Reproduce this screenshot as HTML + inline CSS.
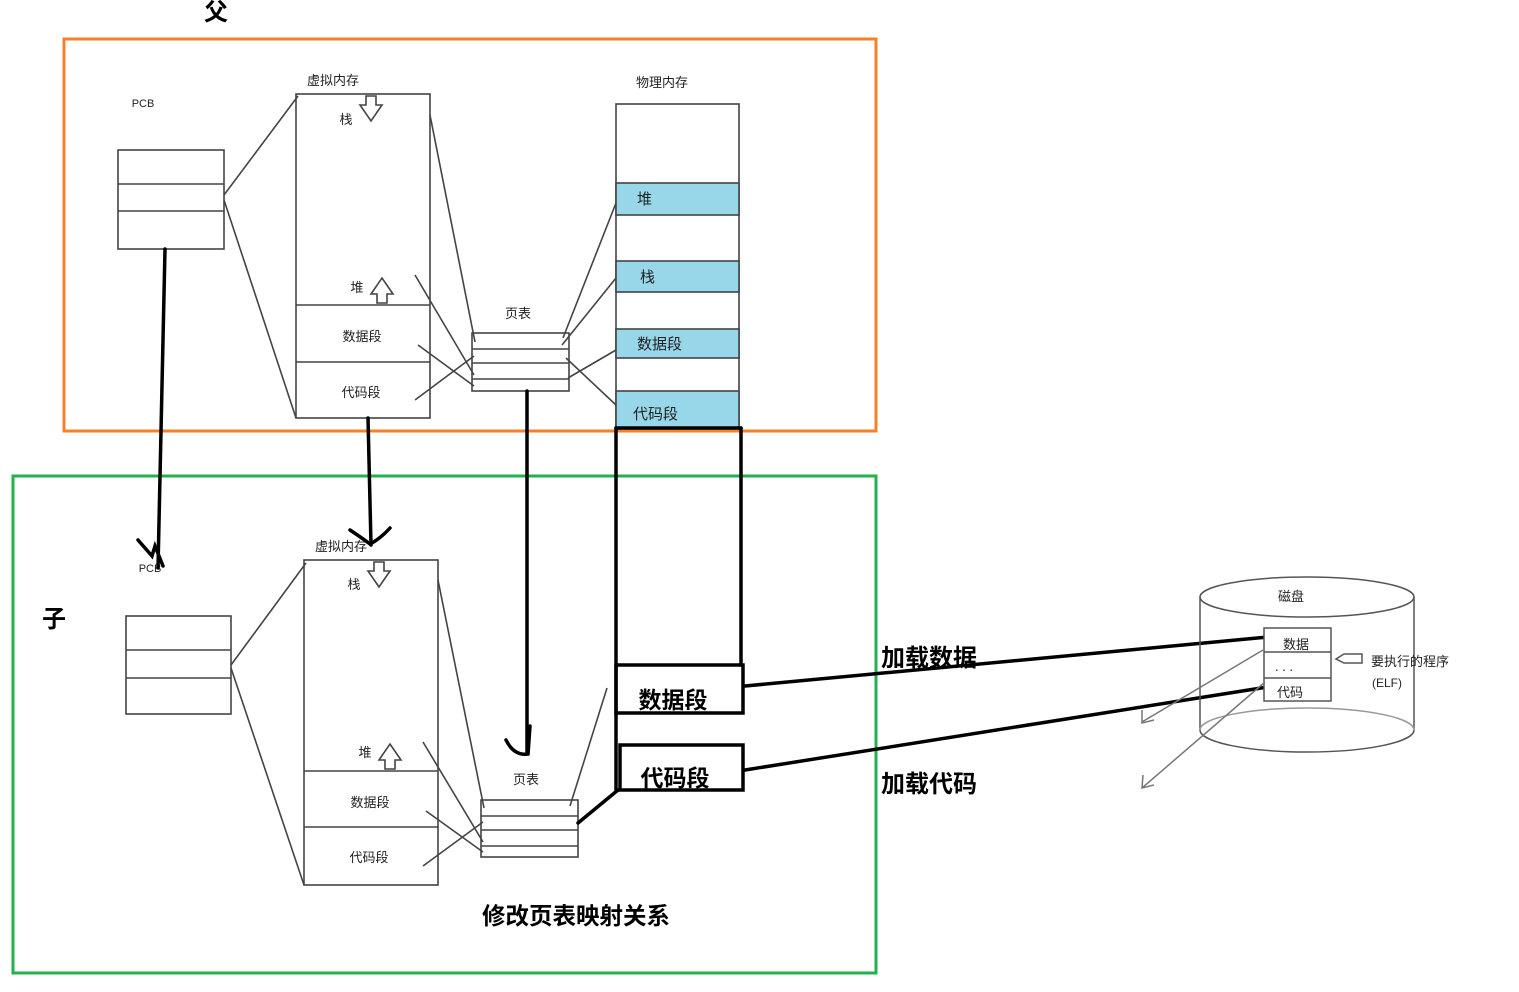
<!DOCTYPE html>
<html><head><meta charset="utf-8"><style>
html,body{margin:0;padding:0;background:#fff;}
text{font-family:"Liberation Sans","Noto Sans CJK SC",sans-serif;fill:#222;}
.b{font-weight:bold;fill:#000;}
</style></head><body>
<svg width="1519" height="987" viewBox="0 0 1519 987" xmlns="http://www.w3.org/2000/svg">
<rect width="1519" height="987" fill="#fff"/>
<rect x="64" y="39" width="812" height="392" fill="none" stroke="#f5822a" stroke-width="3"/>
<rect x="13" y="476" width="863" height="497" fill="none" stroke="#22b14c" stroke-width="3"/>
<text x="216" y="20" font-size="24" class="b" text-anchor="middle">父</text>
<text x="54" y="627" font-size="24" class="b" text-anchor="middle">子</text>

<g stroke="#444" stroke-width="1.6" fill="none">
<rect x="118" y="150" width="106" height="99" fill="#fff"/>
<line x1="118" y1="184" x2="224" y2="184"/><line x1="118" y1="211" x2="224" y2="211"/>
<line x1="224" y1="195" x2="298" y2="96"/><line x1="224" y1="200" x2="296" y2="418"/>
<rect x="296" y="94" width="134" height="324"/>
<line x1="296" y1="305" x2="430" y2="305"/><line x1="296" y1="362" x2="430" y2="362"/>
<path d="M366 96 h10 v9 h6 l-11 16 l-11 -16 h6 z"/>
<path d="M377 303 h10 v-9 h6 l-11 -16 l-11 16 h6 z"/>
<rect x="472" y="333" width="97" height="58"/>
<line x1="472" y1="349" x2="569" y2="349"/><line x1="472" y1="363" x2="569" y2="363"/><line x1="472" y1="379" x2="569" y2="379"/>
<line x1="430" y1="115" x2="475" y2="342"/>
<line x1="415" y1="275" x2="474" y2="375"/>
<line x1="418" y1="345" x2="474" y2="386"/>
<line x1="415" y1="400" x2="474" y2="356"/>
<line x1="563" y1="338" x2="616" y2="203"/>
<line x1="562" y1="345" x2="616" y2="278"/>
<line x1="568" y1="378" x2="616" y2="350"/>
<line x1="566" y1="358" x2="616" y2="405"/>
<rect x="616" y="104" width="123" height="324"/>
</g>
<g fill="#97d7e9" stroke="#444" stroke-width="1.6">
<rect x="616" y="183" width="123" height="32"/>
<rect x="616" y="261" width="123" height="31"/>
<rect x="616" y="329" width="123" height="29"/>
<rect x="616" y="391" width="123" height="37"/>
</g>
<g font-size="13">
<text x="143" y="107" font-size="11" text-anchor="middle">PCB</text>
<text x="333" y="85" text-anchor="middle">虚拟内存</text>
<text x="346" y="124" text-anchor="middle">栈</text>
<text x="357" y="292" text-anchor="middle">堆</text>
<text x="362" y="341" text-anchor="middle">数据段</text>
<text x="361" y="397" text-anchor="middle">代码段</text>
<text x="518" y="318" text-anchor="middle">页表</text>
<text x="662" y="87" text-anchor="middle">物理内存</text>
<text x="637" y="204" font-size="15">堆</text>
<text x="640" y="282" font-size="15">栈</text>
<text x="637" y="349" font-size="15">数据段</text>
<text x="633" y="419" font-size="15">代码段</text>
</g>

<g stroke="#444" stroke-width="1.6" fill="none">
<rect x="126" y="616" width="105" height="98"/>
<line x1="126" y1="650" x2="231" y2="650"/><line x1="126" y1="678" x2="231" y2="678"/>
<line x1="231" y1="665" x2="306" y2="563"/><line x1="231" y1="668" x2="304" y2="885"/>
<rect x="304" y="560" width="134" height="325"/>
<line x1="304" y1="771" x2="438" y2="771"/><line x1="304" y1="827" x2="438" y2="827"/>
<path d="M374 562 h10 v9 h6 l-11 16 l-11 -16 h6 z"/>
<path d="M385 769 h10 v-9 h6 l-11 -16 l-11 16 h6 z"/>
<rect x="481" y="800" width="97" height="57"/>
<line x1="481" y1="816" x2="578" y2="816"/><line x1="481" y1="830" x2="578" y2="830"/><line x1="481" y1="846" x2="578" y2="846"/>
<line x1="438" y1="580" x2="484" y2="808"/>
<line x1="423" y1="742" x2="483" y2="842"/>
<line x1="426" y1="811" x2="483" y2="852"/>
<line x1="423" y1="866" x2="483" y2="822"/>
<line x1="570" y1="806" x2="607" y2="688"/>
</g>
<g font-size="13">
<text x="150" y="572" font-size="11" text-anchor="middle">PCB</text>
<text x="341" y="551" text-anchor="middle">虚拟内存</text>
<text x="354" y="589" text-anchor="middle">栈</text>
<text x="365" y="757" text-anchor="middle">堆</text>
<text x="370" y="807" text-anchor="middle">数据段</text>
<text x="369" y="862" text-anchor="middle">代码段</text>
<text x="526" y="784" text-anchor="middle">页表</text>
</g>

<g stroke="#000" stroke-width="3.5" fill="none" stroke-linecap="round">
<line x1="165" y1="249" x2="158" y2="568"/>
<path d="M138 540 l14 16 l3 -10 l8 20"/>
<line x1="368" y1="418" x2="371" y2="545"/>
<path d="M350 530 q12 8 20 14 q10 -5 20 -16"/>
<line x1="527" y1="391" x2="527" y2="752"/>
<path d="M506 740 q8 16 22 14 l2 -28"/>
<line x1="616" y1="428" x2="616" y2="790"/>
<line x1="741" y1="428" x2="741" y2="665"/>
<line x1="616" y1="428" x2="741" y2="428"/>
<rect x="616" y="665" width="127" height="48"/>
<rect x="620" y="745" width="123" height="45"/>
<line x1="578" y1="823" x2="618" y2="790"/>
<line x1="745" y1="686" x2="1268" y2="637"/>
<line x1="745" y1="770" x2="1280" y2="685"/>
</g>
<text x="673" y="708" font-size="23" class="b" text-anchor="middle">数据段</text>
<text x="675" y="786" font-size="23" class="b" text-anchor="middle">代码段</text>
<text x="929" y="666" font-size="24" class="b" text-anchor="middle">加载数据</text>
<text x="929" y="792" font-size="24" class="b" text-anchor="middle">加载代码</text>
<text x="576" y="924" font-size="23.5" class="b" text-anchor="middle">修改页表映射关系</text>

<g stroke="#555" stroke-width="1.5" fill="none">
<path d="M1200 597 v133"/><path d="M1414 597 v133"/>
<ellipse cx="1307" cy="597" rx="107" ry="20"/>
<path d="M1200 730 a107 22 0 0 0 214 0"/>
<path d="M1200 730 a107 22 0 0 1 214 0" stroke="#999"/>
<rect x="1264" y="628" width="67" height="73" fill="#fff"/>
<line x1="1264" y1="652" x2="1331" y2="652"/><line x1="1264" y1="678" x2="1331" y2="678"/>
<path d="M1336 659 l8 -5 h18 v9 h-18 z"/>
<line x1="1263" y1="650" x2="1142" y2="722" stroke="#777"/>
<path d="M1142 710 l0 13 l12 -3" stroke="#777"/>
<line x1="1265" y1="682" x2="1142" y2="788" stroke="#777"/>
<path d="M1143 775 l-1 13 l12 -3" stroke="#777"/>
</g>
<g font-size="13">
<text x="1291" y="601" text-anchor="middle">磁盘</text>
<text x="1296" y="649" text-anchor="middle">数据</text>
<text x="1284" y="671" text-anchor="middle">. . .</text>
<text x="1290" y="697" text-anchor="middle">代码</text>
<text x="1410" y="666" text-anchor="middle">要执行的程序</text>
<text x="1387" y="687" text-anchor="middle" font-size="12">(ELF)</text>
</g>
</svg>
</body></html>
